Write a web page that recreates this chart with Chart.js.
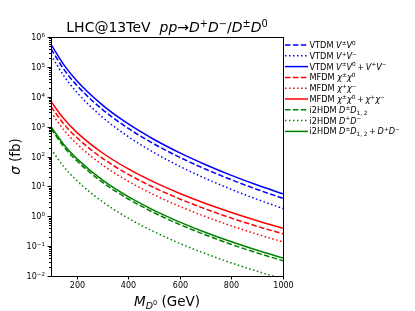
<!DOCTYPE html>
<html>
<head>
<meta charset="utf-8">
<script src="https://cdn.jsdelivr.net/npm/chart.js@4/dist/chart.umd.min.js"></script>
<style>
  html, body { margin: 0; padding: 0; background: #fff; }
  #wrap { width: 415px; height: 311px; }
</style>
</head>
<body>
<div id="wrap"><canvas id="xsec" width="415" height="311"></canvas></div>
<script>
// Cross sections (fb) vs mass of the neutral state (GeV)
const masses = [100, 150, 200, 300, 400, 500, 600, 700, 800, 900, 1000];

const vtdmPM0 = [3.98e5, 8.22e4, 2.42e4, 3.71e3, 869, 262, 93.3, 37.6, 16.6, 7.89, 3.98];
const vtdmPM = [2.51e5, 4.97e4, 1.41e4, 2.05e3, 461, 134, 46.6, 18.3, 7.89, 3.67, 1.82];
const vtdmSum = [5.69e5, 1.17e5, 3.45e4, 5.27e3, 1.23e3, 371, 132, 53.1, 23.4, 11.1, 5.61];

const mfdmPM0 = [4.68e3, 1.22e3, 431, 87.1, 25.3, 9.10, 3.78, 1.74, 0.867, 0.460, 0.257];
const mfdmPM = [3.02e3, 767, 266, 52.1, 14.8, 5.22, 2.13, 0.968, 0.476, 0.250, 0.138];
const mfdmSum = [6.92e3, 1.82e3, 644, 131, 38.3, 13.8, 5.78, 2.67, 1.34, 0.711, 0.398];

const i2hdmPM12 = [851, 211, 71.6, 13.6, 3.78, 1.31, 0.526, 0.236, 0.114, 0.0592, 0.0324];
const i2hdmPM = [178, 45.1, 15.6, 3.04, 0.859, 0.303, 0.123, 0.0558, 0.0274, 0.0144, 0.00793];
const i2hdmSum = [1000, 249, 85.1, 16.3, 4.55, 1.58, 0.638, 0.286, 0.140, 0.0726, 0.0398];

const xTicks = [200, 400, 600, 800, 1000];
const yExponents = [-2, -1, 0, 1, 2, 3, 4, 5, 6];

const FONT = '"DejaVu Sans", Verdana, sans-serif';
const DASHED = [5.5, 2.4];
const DOTTED = [1.5, 2.5];

// rich text pieces: t = text, it = italic, sc = size scale, dy = shift (in em of base size)
const N = t => ({ t });
const I = t => ({ t, it: true });
const SUP = (t, it) => ({ t, it, sc: 0.7, dy: -0.38 });
const SUB = (t, it) => ({ t, it, sc: 0.7, dy: 0.22 });
const PLUS = { t: '\u2009+\u2009' };

function richWidth(ctx, parts, size) {
    let w = 0;
    parts.forEach(p => {
        ctx.font = (p.it ? 'italic ' : '') + (size * (p.sc || 1)) + 'px ' + FONT;
        w += ctx.measureText(p.t).width;
    });
    return w;
}

function drawRich(ctx, parts, x, y, size, align) {
    const w = richWidth(ctx, parts, size);
    let cx = x;
    if (align === 'center') cx = x - w / 2;
    if (align === 'right') cx = x - w;
    ctx.textAlign = 'left';
    ctx.textBaseline = 'alphabetic';
    parts.forEach(p => {
        ctx.font = (p.it ? 'italic ' : '') + (size * (p.sc || 1)) + 'px ' + FONT;
        ctx.fillText(p.t, cx, y + (p.dy || 0) * size);
        cx += ctx.measureText(p.t).width;
    });
}

const legendLabels = [
    [N('VTDM '), I('V'), SUP('±'), I('V'), SUP('0')],
    [N('VTDM '), I('V'), SUP('+'), I('V'), SUP('−')],
    [N('VTDM '), I('V'), SUP('±'), I('V'), SUP('0'), PLUS, I('V'), SUP('+'), I('V'), SUP('−')],
    [N('MFDM '), I('χ'), SUP('±'), I('χ'), SUP('0')],
    [N('MFDM '), I('χ'), SUP('+'), I('χ'), SUP('−')],
    [N('MFDM '), I('χ'), SUP('±'), I('χ'), SUP('0'), PLUS, I('χ'), SUP('+'), I('χ'), SUP('−')],
    [N('i2HDM '), I('D'), SUP('±'), I('D'), SUB('1, 2')],
    [N('i2HDM '), I('D'), SUP('+'), I('D'), SUP('−')],
    [N('i2HDM '), I('D'), SUP('±'), I('D'), SUB('1, 2'), PLUS, I('D'), SUP('+'), I('D'), SUP('−')]
];

function series(values, color, dash) {
    return {
        data: masses.map((m, i) => ({ x: m, y: values[i] })),
        borderColor: color,
        borderWidth: 1.5,
        borderDash: dash,
        pointRadius: 0,
        fill: false,
        cubicInterpolationMode: 'monotone'
    };
}

const datasets = [
    series(vtdmPM0, '#0000ff', DASHED),
    series(vtdmPM, '#0000ff', DOTTED),
    series(vtdmSum, '#0000ff', []),
    series(mfdmPM0, '#ff0000', DASHED),
    series(mfdmPM, '#ff0000', DOTTED),
    series(mfdmSum, '#ff0000', []),
    series(i2hdmPM12, '#008000', DASHED),
    series(i2hdmPM, '#008000', DOTTED),
    series(i2hdmSum, '#008000', [])
];

// frame, ticks, labels, title and legend drawn with the chart's scales
const decor = {
    id: 'decor',
    afterDraw(chart) {
        const { ctx, chartArea: a, scales: { x, y } } = chart;
        ctx.save();
        ctx.fillStyle = '#000';
        ctx.strokeStyle = '#000';

        // frame
        ctx.lineWidth = 1;
        ctx.strokeRect(Math.round(a.left) + 0.5, Math.round(a.top) + 0.5,
            Math.round(a.right - a.left), Math.round(a.bottom - a.top));

        // x ticks
        xTicks.forEach(v => {
            const px = Math.round(x.getPixelForValue(v)) + 0.5;
            ctx.beginPath();
            ctx.moveTo(px, a.bottom);
            ctx.lineTo(px, a.bottom + 3.5);
            ctx.stroke();
            drawRich(ctx, [N(String(v))], px, a.bottom + 12, 8, 'center');
        });

        // y ticks, major and minor
        yExponents.forEach(e => {
            for (let m = 1; m <= 9; m++) {
                const v = m * Math.pow(10, e);
                if (v > 1e6) break;
                const py = Math.round(y.getPixelForValue(v)) + 0.5;
                ctx.beginPath();
                ctx.moveTo(a.left - (m === 1 ? 3.5 : 2), py);
                ctx.lineTo(a.left, py);
                ctx.stroke();
            }
            const py = y.getPixelForValue(Math.pow(10, e));
            const ex = e < 0 ? '−' + (-e) : String(e);
            drawRich(ctx, [N('10'), SUP(ex)], a.left - 6, py + 3, 8, 'right');
        });

        // axis titles
        drawRich(ctx, [I('M'), { t: 'D', it: true, sc: 0.7, dy: 0.22 }, { t: '0', sc: 0.5, dy: -0.08 }, N(' (GeV)')],
            (a.left + a.right) / 2, 306, 13.5, 'center');
        ctx.save();
        ctx.translate(20, (a.top + a.bottom) / 2);
        ctx.rotate(-Math.PI / 2);
        drawRich(ctx, [I('σ'), N(' (fb)')], 0, 0, 13.5, 'center');
        ctx.restore();

        // title
        drawRich(ctx, [N('LHC@13TeV  '), I('pp'), N('→'), I('D'), SUP('+'), I('D'), SUP('−'), N('/'),
            I('D'), SUP('±'), I('D'), SUP('0')], (a.left + a.right) / 2, 32, 14, 'center');

        // legend
        legendLabels.forEach((parts, i) => {
            const ds = datasets[i];
            const cy = 45 + i * 10.8;
            ctx.save();
            ctx.strokeStyle = ds.borderColor;
            ctx.lineWidth = 1.5;
            ctx.setLineDash(ds.borderDash);
            ctx.beginPath();
            ctx.moveTo(285, cy);
            ctx.lineTo(308, cy);
            ctx.stroke();
            ctx.restore();
            drawRich(ctx, parts, 309.5, cy + 2.9, 8.2, 'left');
        });

        ctx.restore();
    }
};

new Chart(document.getElementById('xsec'), {
    type: 'line',
    data: { datasets: datasets },
    options: {
        responsive: false,
        animation: false,
        layout: { padding: { top: 37, right: 132, left: 0, bottom: 0 } },
        plugins: { legend: { display: false }, tooltip: { enabled: false } },
        scales: {
            x: {
                type: 'linear',
                min: 100,
                max: 1000,
                grid: { display: false },
                border: { display: false },
                ticks: { display: false },
                afterFit: s => { s.height = 35; }
            },
            y: {
                type: 'logarithmic',
                min: 0.01,
                max: 1e6,
                grid: { display: false },
                border: { display: false },
                ticks: { display: false },
                afterFit: s => { s.width = 51; }
            }
        }
    },
    plugins: [decor]
});
</script>
</body>
</html>
